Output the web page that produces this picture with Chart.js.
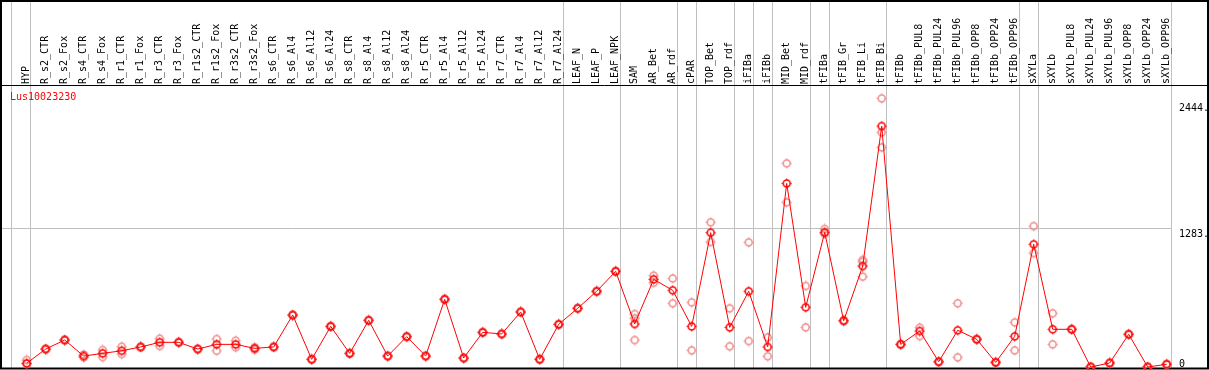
<!DOCTYPE html>
<html>
<head>
<meta charset="utf-8">
<script src="https://cdn.jsdelivr.net/npm/chart.js@4.4.1/dist/chart.umd.min.js"></script>
<style>
html,body{margin:0;padding:0;background:#fff;}
#c{display:block;}
</style>
</head>
<body>
<canvas id="c" width="1209" height="370"></canvas>
<script>
const chartTitle = 'Lus10023230';
const categories = ['HYP','R_s2_CTR','R_s2_Fox','R_s4_CTR','R_s4_Fox','R_r1_CTR','R_r1_Fox','R_r3_CTR','R_r3_Fox',
  'R_r1s2_CTR','R_r1s2_Fox','R_r3s2_CTR','R_r3s2_Fox','R_s6_CTR','R_s6_Al4','R_s6_Al12','R_s6_Al24',
  'R_s8_CTR','R_s8_Al4','R_s8_Al12','R_s8_Al24','R_r5_CTR','R_r5_Al4','R_r5_Al12','R_r5_Al24',
  'R_r7_CTR','R_r7_Al4','R_r7_Al12','R_r7_Al24','LEAF_N','LEAF_P','LEAF_NPK','SAM','AR_Bet','AR_rdf',
  'cPAR','TOP_Bet','TOP_rdf','iFIBa','iFIBb','MID_Bet','MID_rdf','tFIBa','tFIB_Gr','tFIB_Li','tFIB_Bi',
  'tFIBb','tFIBb_PUL8','tFIBb_PUL24','tFIBb_PUL96','tFIBb_OPP8','tFIBb_OPP24','tFIBb_OPP96',
  'sXYLa','sXYLb','sXYLb_PUL8','sXYLb_PUL24','sXYLb_PUL96','sXYLb_OPP8','sXYLb_OPP24','sXYLb_OPP96'];
const meanValues = [34,166,249,101,126,150,185,228,228,166,209,209,172,185,480,71,375,126,431,101,280,
  101,625,83,320,305,508,71,394,542,699,883,397,809,708,375,1240,366,699,185,1695,551,1243,427,932,2224,
  209,332,49,339,256,43,283,1133,348,348,0,37,302,0,25];
const rep1 = [65,170,255,115,157,187,190,261,232,170,258,243,182,188,485,75,380,130,435,105,284,
  105,630,87,324,309,512,75,398,546,703,887,489,843,818,597,1336,542,1151,274,1880,748,1274,432,988,2480,
  213,363,53,588,260,47,412,1301,496,352,3,41,306,3,29];
const rep2 = [30,160,245,90,92,120,180,194,224,162,150,182,160,182,475,67,370,122,427,97,276,
  97,620,79,316,301,504,67,390,538,695,879,249,778,588,154,1154,191,240,99,1520,366,1228,422,834,2028,
  205,286,45,89,252,39,154,1052,209,344,0,33,298,0,21];
const rep3 = [null,null,null,null,null,null,null,null,null,null,null,null,null,null,null,null,null,null,null,null,null,
  null,null,null,null,null,null,null,null,null,null,null,449,null,null,null,null,null,null,null,null,null,null,null,972,2166,
  null,null,null,null,null,null,null,null,null,null,null,null,null,null,null];
const yTickValues = [0, 1283, 2444];
const yTickLabels = ['0', '1283.', '2444.'];
const groupEnds = [-1, 0, 28, 31, 34, 35, 37, 38, 39, 41, 42, 45, 52, 53, 60];

const FONT = '10px "DejaVu Sans Mono", "Liberation Mono", monospace';
const RED = '#ff0000';
const PINK = '#f08c8c';
const GRAY = '#c0c0c0';

function makeMarker(color) {
  const c = document.createElement('canvas');
  c.width = 11; c.height = 11;
  const g = c.getContext('2d');
  g.strokeStyle = color;
  g.lineWidth = 1.6;
  g.beginPath(); g.arc(5.5, 5.5, 3.5, 0, Math.PI * 2); g.stroke();
  g.lineWidth = 1;
  g.beginPath();
  g.moveTo(5.5, 0.5); g.lineTo(5.5, 2);
  g.moveTo(5.5, 9); g.lineTo(5.5, 10.5);
  g.moveTo(0.5, 5.5); g.lineTo(2, 5.5);
  g.moveTo(9, 5.5); g.lineTo(10.5, 5.5);
  g.stroke();
  return c;
}
const redMarker = makeMarker(RED);
const pinkMarker = makeMarker(PINK);

const toPts = arr => arr.map((v, i) => ({x: i, y: v})).filter(p => p.y !== null);

const framePlugin = {
  id: 'frame',
  beforeDatasetsDraw(chart) {
    const {ctx, chartArea: a, scales: {x, y}} = chart;
    const W = chart.width;
    const step = x.getPixelForValue(1) - x.getPixelForValue(0);
    ctx.save();
    ctx.lineWidth = 1;
    ctx.strokeStyle = GRAY;
    const gy = Math.round(y.getPixelForValue(yTickValues[1])) + 0.5;
    ctx.beginPath(); ctx.moveTo(a.left, gy); ctx.lineTo(a.right, gy); ctx.stroke();
    groupEnds.forEach(i => {
      const gx = Math.round(x.getPixelForValue(i) + step * 0.2) + 0.5;
      ctx.beginPath(); ctx.moveTo(gx, 0); ctx.lineTo(gx, a.bottom + 1); ctx.stroke();
    });
    ctx.strokeStyle = '#000';
    ctx.lineWidth = 2;
    ctx.beginPath();
    ctx.moveTo(0, 1); ctx.lineTo(W, 1);
    ctx.moveTo(1, 0); ctx.lineTo(1, a.bottom + 2);
    ctx.moveTo(W - 1, 0); ctx.lineTo(W - 1, a.bottom + 2);
    ctx.moveTo(0, a.bottom + 1.5); ctx.lineTo(W, a.bottom + 1.5);
    ctx.stroke();
    ctx.lineWidth = 1;
    ctx.beginPath(); ctx.moveTo(0, a.top - 0.5); ctx.lineTo(W, a.top - 0.5); ctx.stroke();
    ctx.font = FONT;
    ctx.fillStyle = '#000';
    ctx.textAlign = 'left';
    ctx.textBaseline = 'middle';
    categories.forEach((lab, i) => {
      const px = x.getPixelForValue(i);
      ctx.save();
      ctx.translate(px, a.top - 2);
      ctx.rotate(-Math.PI / 2);
      ctx.fillText(lab, 0, 0);
      ctx.restore();
    });
    ctx.fillStyle = RED;
    ctx.fillText(chartTitle, 10, a.top + 11);
    ctx.fillStyle = '#000';
    yTickValues.forEach((v, k) => {
      const py = y.getPixelForValue(v);
      if (v === y.min) {
        ctx.textBaseline = 'alphabetic';
        ctx.fillText(yTickLabels[k], a.right + 8, py - 0.5);
      } else {
        ctx.textBaseline = 'top';
        ctx.fillText(yTickLabels[k], a.right + 8, py + 1);
      }
    });
    ctx.restore();
  }
};

const repStyle = {showLine: false, pointStyle: pinkMarker, pointRadius: 5, clip: false};

new Chart(document.getElementById('c'), {
  type: 'line',
  data: {
    datasets: [
      {
        label: 'mean',
        data: toPts(meanValues),
        borderColor: RED,
        borderWidth: 1,
        pointStyle: redMarker,
        pointRadius: 5,
        showLine: true,
        tension: 0,
        clip: false
      },
      Object.assign({label: 'rep1', data: toPts(rep1)}, repStyle),
      Object.assign({label: 'rep2', data: toPts(rep2)}, repStyle),
      Object.assign({label: 'rep3', data: toPts(rep3)}, repStyle)
    ]
  },
  options: {
    responsive: false,
    animation: false,
    layout: {autoPadding: false, padding: {left: 0, right: 0, top: 0, bottom: 3}},
    plugins: {legend: {display: false}, tooltip: {enabled: false}, title: {display: false}},
    scales: {
      x: {
        type: 'linear',
        position: 'top',
        min: -1.405,
        max: 60.226,
        afterBuildTicks: s => { s.ticks = categories.map((_, i) => ({value: i})); },
        afterFit: s => { s.height = 86; },
        grid: {display: false, drawTicks: false},
        border: {display: false},
        ticks: {display: false}
      },
      y: {
        type: 'linear',
        position: 'right',
        min: 0,
        max: 2594,
        afterFit: s => { s.width = 38; },
        grid: {display: false},
        border: {display: false},
        ticks: {display: false}
      }
    }
  },
  plugins: [framePlugin]
});
</script>
</body>
</html>
